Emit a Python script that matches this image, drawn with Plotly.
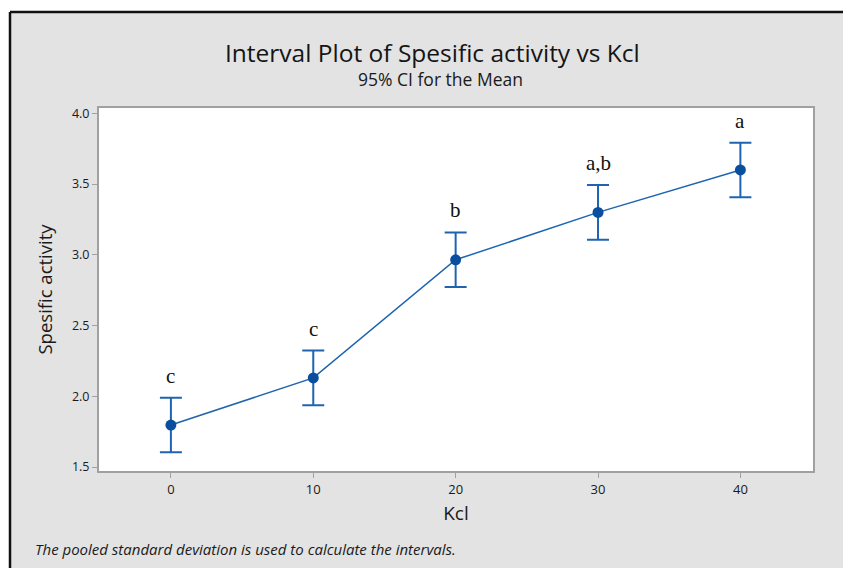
import plotly.graph_objects as go

# Interval plot data: KCl concentration, group means and 95% CI half-widths
kcl = [0, 10, 20, 30, 40]
mean_activity = [1.797, 2.130, 2.965, 3.300, 3.600]
ci_half = [0.193, 0.193, 0.193, 0.193, 0.193]
group_letters = ["c", "c", "b", "a,b", "a"]

x_ticks = [0, 10, 20, 30, 40]
y_ticks = [1.5, 2.0, 2.5, 3.0, 3.5, 4.0]
y_tick_text = ["1.5", "2.0", "2.5", "3.0", "3.5", "4.0"]

BLUE = "#1f64b0"
DOT = "#0a4f9e"
GRAY_BG = "#e3e3e3"
AXIS_GRAY = "#a0a0a0"
FONT = "Open Sans"

# pixel -> paper coordinate helpers for the 843x568 canvas
L, R, T, B = 99, 813, 108, 471
def px(x):
    return (x - L) / (R - L)
def py(y):
    return (B - y) / (B - T)

fig = go.Figure()

fig.add_trace(go.Scatter(
    x=kcl,
    y=mean_activity,
    mode="lines+markers",
    line=dict(color=BLUE, width=1.5),
    marker=dict(color=DOT, size=11),
    error_y=dict(
        type="data",
        array=ci_half,
        symmetric=True,
        color=BLUE,
        thickness=2,
        width=11,
    ),
    showlegend=False,
    hoverinfo="x+y",
))

# Grouping letters above each interval
for xv, m, h, lab in zip(kcl, mean_activity, ci_half, group_letters):
    fig.add_annotation(
        x=xv, y=m + h, text=lab, showarrow=False,
        xref="x", yref="y", yanchor="bottom", yshift=8,
        font=dict(family="Liberation Serif", size=21, color="#111111"),
    )

# White margin strips outside the gray panel, plus its black top/left frame
fig.add_shape(type="rect", xref="paper", yref="paper",
              x0=px(-5), x1=px(850), y0=py(12), y1=py(-5),
              fillcolor="white", line=dict(width=0), layer="below")
fig.add_shape(type="rect", xref="paper", yref="paper",
              x0=px(-5), x1=px(10), y0=py(575), y1=py(-5),
              fillcolor="white", line=dict(width=0), layer="below")
fig.add_shape(type="line", xref="paper", yref="paper",
              x0=px(10), x1=px(850), y0=py(12), y1=py(12),
              line=dict(color="#111111", width=2.5), layer="below")
fig.add_shape(type="line", xref="paper", yref="paper",
              x0=px(10), x1=px(10), y0=py(12), y1=py(575),
              line=dict(color="#111111", width=2.5), layer="below")

# Title and subtitle
fig.add_annotation(
    x=px(432), y=py(52), xref="paper", yref="paper",
    xanchor="center", yanchor="middle",
    text="Interval Plot of Spesific activity vs Kcl", showarrow=False,
    font=dict(family=FONT, size=24.5, color="#151515"),
)
fig.add_annotation(
    x=px(440), y=py(79), xref="paper", yref="paper",
    xanchor="center", yanchor="middle",
    text="95% CI for the Mean", showarrow=False,
    font=dict(family=FONT, size=17.5, color="#1a1a1a"),
)
# Footnote
fig.add_annotation(
    x=px(33), y=py(549), xref="paper", yref="paper",
    xanchor="left", yanchor="middle",
    text="<i>The pooled standard deviation is used to calculate the intervals.</i>",
    showarrow=False,
    font=dict(family=FONT, size=15, color="#1a1a1a"),
)

fig.update_layout(
    width=843,
    height=568,
    margin=dict(l=L, r=843 - R, t=T, b=568 - B),
    paper_bgcolor=GRAY_BG,
    plot_bgcolor="white",
    font=dict(family=FONT, color="#1a1a1a"),
    xaxis=dict(
        range=[-5.05, 45.1],
        tickvals=x_ticks,
        ticks="outside", ticklen=5, tickcolor=AXIS_GRAY,
        showgrid=False, zeroline=False,
        showline=True, linecolor=AXIS_GRAY, linewidth=2, mirror=True,
        tickfont=dict(size=13),
        title=dict(text="Kcl", font=dict(size=19), standoff=10),
    ),
    yaxis=dict(
        range=[1.472, 4.038],
        tickvals=y_ticks,
        ticktext=y_tick_text,
        ticks="outside", ticklen=5, tickcolor=AXIS_GRAY,
        showgrid=False, zeroline=False,
        showline=True, linecolor=AXIS_GRAY, linewidth=2, mirror=True,
        tickfont=dict(size=12.5),
        title=dict(text="Spesific activity", font=dict(size=18.5), standoff=14),
    ),
)

fig.write_html("out.html")
